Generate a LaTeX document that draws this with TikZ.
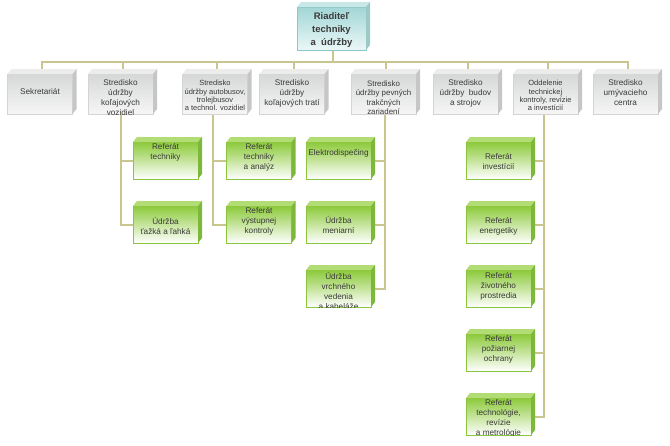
\documentclass[tikz,border=0pt]{standalone}
\usepackage{fontspec}
\setmainfont{Liberation Sans}
\usetikzlibrary{calc}
\pgfdeclarelayer{background}
\pgfsetlayers{background,main}
\definecolor{connc}{HTML}{C9C58F}
\definecolor{txtc}{HTML}{3A3A3A}
\definecolor{grayTop}{HTML}{D6D8D8}
\definecolor{grayBot}{HTML}{F6F6F6}
\definecolor{grayBrd}{HTML}{D4D4D4}
\definecolor{grayLid}{HTML}{ECECEC}
\definecolor{graySide}{HTML}{C6C6C6}
\definecolor{grnTop}{HTML}{8CCA3A}
\definecolor{grnBrd}{HTML}{8CC63F}
\definecolor{grnLid}{HTML}{B2DC74}
\definecolor{grnSide}{HTML}{7DB83A}
\definecolor{cyTop}{HTML}{A2D6D6}
\definecolor{cyBot}{HTML}{EBF7F7}
\definecolor{cyBrd}{HTML}{8CC6C6}
\definecolor{cyLid}{HTML}{C8E8E8}
\definecolor{cySide}{HTML}{9CC8C8}
\newcommand\cubefaces[3]{%
  \fill[#2] (#1.north west) -- ++(4,-5) -- ($(#1.north east)+(4,-5)$) -- (#1.north east) -- cycle;
  \fill[#3] (#1.north east) -- ++(4,-5) -- ($(#1.south east)+(4,-5)$) -- (#1.south east) -- cycle;
}
\tikzset{
  basebox/.style={inner sep=0pt, outer sep=0pt, line width=0.5pt},
  topbox/.style={basebox, draw=cyBrd, top color=cyTop, bottom color=cyBot, minimum width=69pt, minimum height=43pt},
  graybox/.style={basebox, draw=grayBrd, top color=grayTop, bottom color=grayBot, minimum width=65pt, minimum height=40pt},
  grnbox/.style={basebox, draw=grnBrd, top color=grnTop, middle color=grnTop!30, bottom color=white, minimum width=65pt, minimum height=37pt},
  txt/.style={inner sep=0pt, align=center, text=txtc, font=\fontsize{8.2}{10}\selectfont},
  txts/.style={txt, font=\fontsize{7.5}{8.3}\selectfont},
  txtm/.style={txt, font=\fontsize{7.9}{9.5}\selectfont},
  txtb/.style={inner sep=0pt, align=center, text=txtc, font=\fontsize{9.5}{13}\selectfont\bfseries},
  conn/.style={draw=connc, line width=2pt}
}
\begin{document}
\begin{tikzpicture}[x=1pt,y=-1pt]
\useasboundingbox (0,0) rectangle (670,445);
% top
\node[topbox] (top) at (331.5,28.5) {};
\cubefaces{top}{cyLid}{cySide}
\node[txtb] (ttop) at (331.5,30) {Riaditeľ\\techniky\\a\ \ údržby};
% level 2
\foreach \n/\x in {l1/40,l2/120.5,l3/215,l4/292,l5/383.5,l6/465.5,l7/545.5,l8/625.5}{
  \node[graybox] (\n) at (\x,94) {};
  \cubefaces{\n}{grayLid}{graySide}
}
\node[txt] (tl1) at (40,91.5) {Sekretariát};
\node[txt] (tl2) at (120.5,98) {Stredisko\\údržby\\koľajových\\vozidiel};
\node[txts] (tl3) at (215,95.5) {Stredisko\\údržby autobusov,\\trolejbusov\\a technol. vozidiel};
\node[txt] (tl4) at (292,93) {Stredisko\\údržby\\koľajových tratí};
\node[txtm] (tl5) at (383.5,97.5) {Stredisko\\údržby pevných\\trakčných\\zariadení};
\node[txt] (tl6) at (465.5,93) {Stredisko\\údržby\ \ budov\\a strojov};
\node[txts] (tl7) at (545.5,95.5) {Oddelenie\\technickej\\kontroly, revízie\\a investícií};
\node[txt] (tl8) at (625.5,93) {Stredisko\\umývacieho\\centra};
% sub boxes
\foreach \n/\x/\y in {s1a/165.5/160.5, s1b/165.5/224.5, s2a/259/160.5, s2b/259/224.5,
  s3a/338.5/160.5, s3b/338.5/224.5, s3c/338.5/288.5,
  s4a/498.5/160.5, s4b/498.5/224.5, s4c/498.5/288.5, s4d/498.5/352.5, s4e/498.5/416.5}{
  \node[grnbox] (\n) at (\x,\y) {};
  \cubefaces{\n}{grnLid}{grnSide}
}
\node[txt] (ts1a) at (165.5,152) {Referát\\techniky};
\node[txt] (ts1b) at (165.5,225.5) {Údržba\\ťažká a ľahká};
\node[txt] (ts2a) at (259,157) {Referát\\techniky\\a analýz};
\node[txt] (ts2b) at (259,221) {Referát\\výstupnej\\kontroly};
\node[txt] (ts3a) at (338.5,153) {Elektrodispečing};
\node[txt] (ts3b) at (338.5,225) {Údržba\\meniarní};
\begin{scope}
  \clip (s3c.north west) rectangle (s3c.south east);
  \node[txt] (ts3c) at (338.5,290.5) {Údržba\\vrchného\\vedenia\\a kabeláže};
\end{scope}
\node[txt] (ts4a) at (498.5,162) {Referát\\investícií};
\node[txt] (ts4b) at (498.5,226) {Referát\\energetiky};
\node[txt] (ts4c) at (498.5,286) {Referát\\životného\\prostredia};
\node[txt] (ts4d) at (498.5,349) {Referát\\požiarnej\\ochrany};
\begin{scope}
  \clip (s4e.north west) rectangle (s4e.south east);
  \node[txt] (ts4e) at (498.5,418) {Referát\\technológie,\\revízie\\a metrológie};
\end{scope}
% connectors
\begin{pgfonlayer}{background}
  \coordinate (hub) at (333,62);
  \draw[conn] ($(top.south)+(1.5,0)$) -- (hub);
  \foreach \n in {l1,l2,l3,l4,l5,l6,l7,l8}{
    \draw[conn] ($(\n.north)+(2,-4)$) |- (hub);
  }
  \draw[conn] (l2.south) |- (s1a.west);
  \draw[conn] (l2.south) |- (s1b.west);
  \draw[conn] ($(l3.south)+(-2,0)$) |- (s2a.west);
  \draw[conn] ($(l3.south)+(-2,0)$) |- (s2b.west);
  \draw[conn] ($(l5.south)+(1.5,0)$) |- (s3a.east);
  \draw[conn] ($(l5.south)+(1.5,0)$) |- (s3b.east);
  \draw[conn] ($(l5.south)+(1.5,0)$) |- (s3c.east);
  \foreach \n in {s4a,s4b,s4c,s4d,s4e}{
    \draw[conn] ($(l7.south)+(-1.5,0)$) |- (\n.east);
  }
\end{pgfonlayer}
\end{tikzpicture}
\end{document}
